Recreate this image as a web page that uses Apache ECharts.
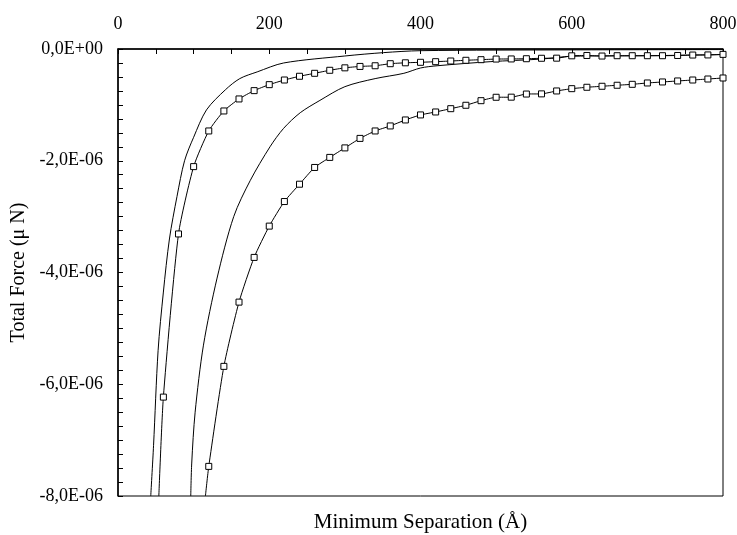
<!DOCTYPE html>
<html>
<head>
<meta charset="utf-8">
<script src="https://cdn.jsdelivr.net/npm/echarts@6/dist/echarts.min.js"></script>
<style>
  html, body { margin: 0; padding: 0; background: #fff; }
  #chart1 { width: 737px; height: 535px; }
</style>
</head>
<body>
<div id="chart1"></div>
<script>
// values in units of 1E-06 µN

// squares, left curve (edge point where it leaves the plot first)
const squaresA = [[54, -8.0],
  [60, -6.23], [80, -3.31], [100, -2.105], [120, -1.467], [140, -1.109], [160, -0.894], [180, -0.745],
  [200, -0.638], [220, -0.555], [240, -0.488], [260, -0.435], [280, -0.381], [300, -0.337], [320, -0.312],
  [340, -0.3], [360, -0.263], [380, -0.247], [400, -0.238], [420, -0.227], [440, -0.215], [460, -0.202],
  [480, -0.191], [500, -0.18], [520, -0.178], [540, -0.174], [560, -0.166], [580, -0.164], [600, -0.122],
  [620, -0.116], [640, -0.126], [660, -0.12], [680, -0.12], [700, -0.12], [720, -0.12], [740, -0.116],
  [760, -0.108], [780, -0.106], [800, -0.096]];

// squares, right curve
const squaresB = [[115.6, -8.0],
  [120, -7.47], [140, -5.68], [160, -4.53], [180, -3.73], [200, -3.17], [220, -2.73], [240, -2.42],
  [260, -2.12], [280, -1.94], [300, -1.77], [320, -1.6], [340, -1.467], [360, -1.377], [380, -1.27],
  [400, -1.18], [420, -1.127], [440, -1.068], [460, -1.007], [480, -0.925], [500, -0.864], [520, -0.862],
  [540, -0.806], [560, -0.803], [580, -0.751], [600, -0.71], [620, -0.685], [640, -0.667], [660, -0.649],
  [680, -0.632], [700, -0.608], [720, -0.59], [740, -0.572], [760, -0.555], [780, -0.537], [800, -0.519]];

// plain line, left
const plainC = [[43.3, -8.0], [47, -7.1], [53, -5.4], [60, -4.35], [68, -3.4], [78, -2.64],
  [88, -2.0], [100, -1.58], [117, -1.09], [142, -0.73], [161, -0.53], [184, -0.41], [219, -0.25],
  [300, -0.125], [351, -0.065], [400, -0.03], [600, -0.016], [800, -0.01]];

// plain line, right
const plainD = [[96.2, -8.0], [97.5, -7.41], [102, -6.5], [113, -5.3], [131, -4.1], [153, -3.0],
  [175, -2.35], [201, -1.75], [219, -1.42], [241, -1.14], [267, -0.92], [300, -0.674], [340, -0.53],
  [378, -0.435], [400, -0.34], [422, -0.3], [492, -0.227], [560, -0.18], [600, -0.13], [700, -0.12],
  [800, -0.1]];

const xTicks = [0, 200, 400, 600, 800];
const yTicks = [-8, -6, -4, -2, 0];

const FONT = 'Liberation Serif';

const withEdge = (arr) => arr.map((p, i) => i === 0 ? { value: p, symbol: 'none' } : p);

const yLabel = (v) => v === 0 ? '0,0E+00' : v.toFixed(1).replace('.', ',') + 'E-06';

const lineStyle = { color: '#000', width: 1 };

const getOption = () => {
  return {
    animation: false,
    backgroundColor: '#fff',
    grid: {
      left: 118, top: 49, right: 14, bottom: 39, outerBoundsMode: 'none',
      show: true, borderColor: '#000', borderWidth: 1
    },
    xAxis: [
      {
        type: 'value', position: 'top', min: xTicks[0], max: xTicks[xTicks.length - 1], interval: 200,
        axisLine: { show: true, lineStyle: { color: '#000', width: 1.5 } },
        axisTick: { show: true, inside: true, length: 5, lineStyle: { color: '#000' } },
        minorTick: { show: true, splitNumber: 4, length: 5, lineStyle: { color: '#000' } },
        axisLabel: { color: '#000', fontFamily: FONT, fontSize: 18, margin: 16 },
        splitLine: { show: false }
      },
      {
        type: 'value', position: 'bottom', min: 0, max: 800,
        name: 'Minimum Separation (Å)', nameLocation: 'middle', nameGap: 16,
        nameTextStyle: { color: '#000', fontFamily: FONT, fontSize: 21 },
        axisLine: { show: false }, axisTick: { show: false }, axisLabel: { show: false },
        splitLine: { show: false }
      }
    ],
    yAxis: {
      type: 'value', min: yTicks[0], max: yTicks[yTicks.length - 1], interval: 2,
      name: 'Total Force (μ N)', nameLocation: 'middle', nameGap: 88,
      nameTextStyle: { color: '#000', fontFamily: FONT, fontSize: 20 },
      axisLine: { show: true, lineStyle: { color: '#000', width: 1.5 } },
      axisTick: { show: true, inside: true, length: 5, lineStyle: { color: '#000' } },
      minorTick: { show: true, splitNumber: 8, length: 5, lineStyle: { color: '#000' } },
      axisLabel: { color: '#000', fontFamily: FONT, fontSize: 18, margin: 15, formatter: yLabel },
      splitLine: { show: false }
    },
    series: [
      {
        type: 'line', data: plainC, showSymbol: false, smooth: 0.3, clip: true,
        lineStyle: lineStyle
      },
      {
        type: 'line', data: plainD, showSymbol: false, smooth: 0.3, clip: true,
        lineStyle: lineStyle
      },
      {
        type: 'line', data: withEdge(squaresA), symbol: 'rect', symbolSize: 6, smooth: 0.2, clip: true,
        lineStyle: lineStyle, itemStyle: { color: '#fff', borderColor: '#000', borderWidth: 1 }
      },
      {
        type: 'line', data: withEdge(squaresB), symbol: 'rect', symbolSize: 6, smooth: 0.2, clip: true,
        lineStyle: lineStyle, itemStyle: { color: '#fff', borderColor: '#000', borderWidth: 1 }
      }
    ]
  };
};

const initCharts = () => {
  const chart1 = echarts.init(document.getElementById('chart1'));
  chart1.setOption(getOption());
};

window.addEventListener('load', () => {
  initCharts();
});
</script>
</body>
</html>
